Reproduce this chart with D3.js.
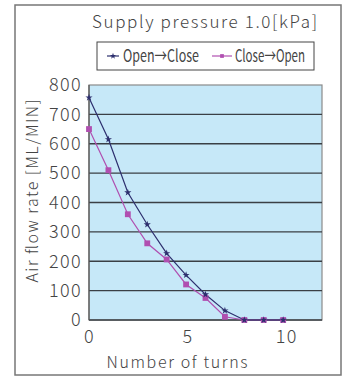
<!DOCTYPE html>
<html><head><meta charset="utf-8">
<script src="https://cdn.jsdelivr.net/npm/d3@7"></script>
<style>body{margin:0;background:#fff}svg{display:block}</style>
</head><body>
<svg id="c" width="346" height="376"></svg>
<script>
const turns = [0,1,2,3,4,5,6,7,8,9,10];
const openClose = [757,615,434,325,227,153,87,32,0,0,0];
const closeOpen = [650,510,360,261,206,121,75,11,0,0,0];
const yTicks = [0,100,200,300,400,500,600,700,800];
const xTicks = [0,5,10];
const seriesNames = ["Open→Close","Close→Open"];
const titleText = "Supply pressure 1.0[kPa]";
const xTitle = "Number of turns";
const yTitle = "Air flow rate  [ML/MIN]";

const navy = "#2d2f6e", mag = "#b04fb0";
const font = "'Noto Sans CJK JP', 'DejaVu Sans', sans-serif";
const svg = d3.select("#c");

svg.append("rect").attr("x",15).attr("y",5).attr("width",326).attr("height",370)
  .attr("fill","#fff").attr("stroke","#777").attr("stroke-width",1.5);

const x = d3.scaleLinear().domain([0,12]).range([89,322]);
const y = d3.scaleLinear().domain([0,800]).range([320,85]);

svg.append("rect").attr("x",x(0)).attr("y",y(800)).attr("width",x(12)-x(0)).attr("height",y(0)-y(800))
  .attr("fill","#c6e8f8").attr("stroke","#8a8a8a").attr("stroke-width",1.2);

svg.append("g").selectAll("line").data(yTicks.slice(0,-1)).join("line")
  .attr("x1",x(0)).attr("x2",x(12)).attr("y1",d=>y(d)).attr("y2",d=>y(d))
  .attr("stroke","#3a3f45").attr("stroke-width",1.4);
svg.append("line").attr("x1",x(0)).attr("x2",x(0)).attr("y1",y(800)).attr("y2",y(0))
  .attr("stroke","#555").attr("stroke-width",1.2);

// axes
const yAxis = svg.append("g").attr("transform",`translate(${x(0)},0)`)
  .call(d3.axisLeft(y).tickValues(yTicks).tickSize(0).tickPadding(7));
yAxis.select(".domain").remove();
yAxis.selectAll("text").attr("font-family",font).attr("font-size",18).attr("fill","#444")
  .attr("letter-spacing","1.4px").attr("font-weight",300);

const xAxis = svg.append("g").attr("transform",`translate(0,${y(0)})`)
  .call(d3.axisBottom(x).tickValues(xTicks).tickSize(0).tickPadding(10));
xAxis.select(".domain").remove();
xAxis.selectAll("text").attr("font-family",font).attr("font-size",18).attr("fill","#444")
  .attr("letter-spacing","1.4px").attr("font-weight",300).attr("dx",(d)=>d/3.3);

svg.append("text").attr("x",177).attr("y",368).attr("text-anchor","middle")
  .attr("font-family",font).attr("font-size",16).attr("fill","#444").attr("font-weight",300)
  .attr("textLength",141).text(xTitle);
svg.append("text").attr("transform","translate(38,191) rotate(-90)").attr("text-anchor","middle")
  .attr("font-family",font).attr("font-size",16).attr("fill","#444").attr("font-weight",300)
  .attr("textLength",183).text(yTitle);

svg.append("text").attr("x",92).attr("y",28).attr("font-family",font).attr("font-size",17)
  .attr("fill","#444").attr("font-weight",300).attr("textLength",225).text(titleText);

// legend
svg.append("rect").attr("x",97).attr("y",42).attr("width",217).attr("height",28)
  .attr("fill","#fff").attr("stroke","#444").attr("stroke-width",1);

const line = d3.line().x((d,i)=>x(turns[i])).y(d=>y(d));
const star = d3.symbol().type(d3.symbolStar).size(16);
const sq = d3.symbol().type(d3.symbolSquare).size(34);

svg.append("path").datum(closeOpen).attr("d",line).attr("fill","none").attr("stroke",mag).attr("stroke-width",1.2);
svg.append("path").datum(openClose).attr("d",line).attr("fill","none").attr("stroke",navy).attr("stroke-width",1.2);
svg.append("g").selectAll("path").data(closeOpen).join("path").attr("d",sq)
  .attr("transform",(d,i)=>`translate(${x(turns[i])},${y(d)})`).attr("fill",mag);
svg.append("g").selectAll("path").data(openClose).join("path").attr("d",star)
  .attr("transform",(d,i)=>`translate(${x(turns[i])},${y(d)})`).attr("fill",navy);

const leg = [{c:navy,x1:107,x2:119,tx:123,tl:76,sym:d3.symbol().type(d3.symbolStar).size(12)},{c:mag,x1:212,x2:232,tx:235,tl:70,sym:d3.symbol().type(d3.symbolSquare).size(14)}];
leg.forEach((L,i)=>{
  svg.append("line").attr("x1",L.x1).attr("x2",L.x2).attr("y1",56).attr("y2",56).attr("stroke",L.c).attr("stroke-width",1.2);
  svg.append("path").attr("d",L.sym).attr("transform",`translate(${(L.x1+L.x2)/2},56)`).attr("fill",L.c);
  svg.append("text").attr("x",L.tx).attr("y",62).attr("font-family",font).attr("font-size",17)
    .attr("fill","#444").attr("textLength",L.tl).attr("lengthAdjust","spacingAndGlyphs").text(seriesNames[i]);
});
</script>
</body></html>
